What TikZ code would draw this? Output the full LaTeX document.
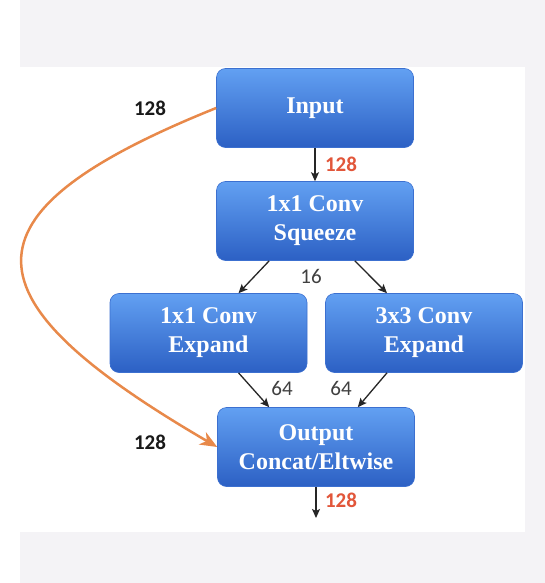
\documentclass[tikz,border=0pt]{standalone}
\usepackage{fontspec}
\setmainfont{Liberation Serif}
\newfontfamily\labfont{Carlito}
\usetikzlibrary{arrows.meta}
\definecolor{bgray}{HTML}{F4F3F6}
\definecolor{boxtop}{HTML}{62A0F2}
\definecolor{boxbot}{HTML}{2C60C4}
\definecolor{boxedge}{HTML}{3C70D0}
\definecolor{orangec}{HTML}{E8894A}
\definecolor{redc}{HTML}{E2563A}
\definecolor{darkg}{HTML}{404040}
\begin{document}
\begin{tikzpicture}[x=1pt,y=-1pt,
  box/.style={rounded corners=9pt, minimum width=197pt, minimum height=79pt,
    top color=boxtop, bottom color=boxbot, draw=boxedge, line width=0.6pt,
    text=white, align=center, inner sep=0pt,
    font=\bfseries\fontsize{24}{29}\selectfont},
  numlab/.style={font=\labfont\fontsize{21}{24}\selectfont, inner sep=0pt},
  boldlab/.style={numlab, font=\labfont\bfseries\fontsize{21}{24}\selectfont},
  conn/.style={line width=1.3pt, black!85, -{Stealth[length=9pt,width=8pt,inset=2pt]}},
  skip/.style={line width=2.5pt, orangec, -{Stealth[length=17pt,width=14pt,inset=5pt]}}]
\useasboundingbox (0,0) rectangle (545,583);
\fill[white] (0,0) rectangle (545,583);
\fill[bgray] (20,0) rectangle (545,583);
\fill[white] (20,67) rectangle (525,532);

\node[box] (input) at (315,108) {Input};
\node[box] (squeeze) at (315,221) {1x1 Conv\\Squeeze};
\node[box] (expa) at (208.5,333) {1x1 Conv\\Expand};
\node[box] (expb) at (424,333) {3x3 Conv\\Expand};
\node[box] (output) at (316,447) {Output\\Concat/Eltwise};
\coordinate (outend) at (316,518);

\draw[conn] (input) -- (squeeze);
\draw[conn] ([xshift=53pt]squeeze.south west) -- ([xshift=30pt]expa.north);
\draw[conn] ([xshift=-59pt]squeeze.south east) -- ([xshift=-37pt]expb.north);
\draw[conn] ([xshift=30pt]expa.south) -- ([xshift=52pt]output.north west);
\draw[conn] ([xshift=-37pt]expb.south) -- ([xshift=-57pt]output.north east);
\draw[conn] (output) -- (outend);
\draw[skip] (input.west) .. controls (-50,215) and (-35,300) .. (output.west);

\node[boldlab, text=black!90] (l1) at (150,108) {128};
\node[boldlab, text=black!90] (l2) at (150,442) {128};
\node[boldlab, text=redc] (r1) at (341,164) {128};
\node[boldlab, text=redc] (r2) at (341,500) {128};
\node[numlab, text=darkg] (n16) at (311,276) {16};
\node[numlab, text=darkg] (n64a) at (282,388) {64};
\node[numlab, text=darkg] (n64b) at (341,388) {64};
\end{tikzpicture}
\end{document}
